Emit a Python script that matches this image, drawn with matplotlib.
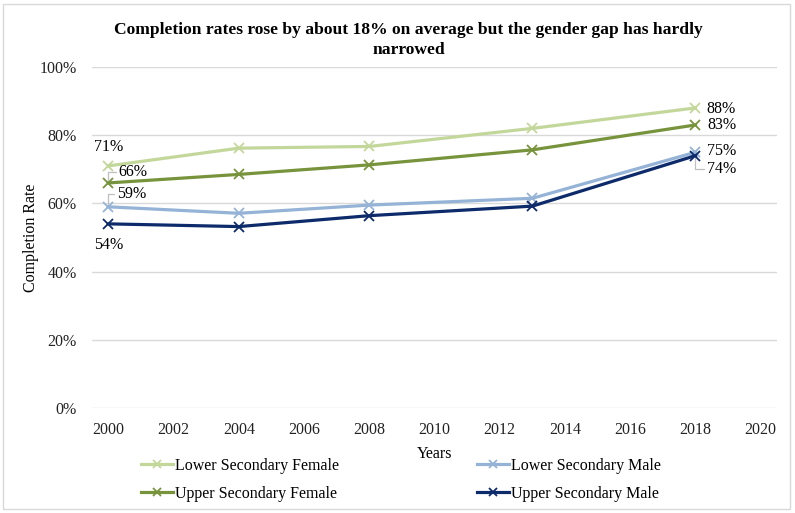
import matplotlib
matplotlib.use("Agg")
import matplotlib.pyplot as plt
from matplotlib.patches import Rectangle

plt.rcParams['font.family'] = ['Liberation Serif', 'DejaVu Serif']

years = [2000, 2004, 2008, 2013, 2018]
lower_sec_female = [71, 76.2, 76.7, 82.0, 88]
upper_sec_female = [66, 68.5, 71.3, 75.7, 83]
lower_sec_male = [59, 57.1, 59.5, 61.5, 75]
upper_sec_male = [54, 53.2, 56.4, 59.2, 74]

series_names = ["Lower Secondary Female", "Upper Secondary Female",
                "Lower Secondary Male", "Upper Secondary Male"]
colors = ["#c4d79b", "#77933c", "#95b3d7", "#0d2a6b"]

x_ticks = list(range(2000, 2021, 2))
y_ticks = [0, 20, 40, 60, 80, 100]

title = "Completion rates rose by about 18% on average but the gender gap has hardly\nnarrowed"

fig = plt.figure(figsize=(7.95, 5.13), dpi=100)
fig.patches.append(Rectangle((0.004, 0.008), 0.990, 0.985, transform=fig.transFigure,
                             fill=False, edgecolor="#d9d9d9", linewidth=1.0))

ax = fig.add_axes([92/795, 1-408/513, (777-92)/795, (408-67)/513])
all_series = [lower_sec_female, upper_sec_female, lower_sec_male, upper_sec_male]
lines = []
for vals, name, c in zip(all_series, series_names, colors):
    ln, = ax.plot(years, [v/100 for v in vals], color=c, lw=2.3, marker='x',
                  markersize=7, markeredgewidth=1.3, label=name, zorder=3)
    lines.append(ln)

ax.set_xlim(1999.5, 2020.5)
ax.set_ylim(0, 1)
ax.set_xticks(x_ticks)
ax.set_yticks([t/100 for t in y_ticks])
ax.set_yticklabels([f"{t}%" for t in y_ticks])
ax.tick_params(axis='both', length=0, labelsize=11.5, colors='#222222')
ax.tick_params(axis='y', pad=11)
ax.tick_params(axis='x', pad=10)
ax.grid(axis='y', color='#d9d9d9', lw=1.0)
ax.set_axisbelow(True)
for s in ax.spines.values():
    s.set_visible(False)

ax.set_xlabel("Years", fontsize=11.5, labelpad=6)
ax.set_ylabel("Completion Rate", fontsize=11.5, labelpad=0)

fig.text(0.514, 1-40/513, title, ha='center', va='center', fontsize=12.6,
         fontweight='bold', linespacing=1.35)

lead = dict(arrowstyle='-', color='#bfbfbf', lw=0.9, shrinkA=0, shrinkB=2)
lab_fs = 11.5
# left labels
ax.annotate(f"{lower_sec_female[0]:.0f}%", (years[0], lower_sec_female[0]/100),
            xytext=(0, 19), textcoords='offset pixels', ha='center', va='center', fontsize=lab_fs)
ax.annotate(f"{upper_sec_female[0]:.0f}%", (years[0], upper_sec_female[0]/100),
            xytext=(25, 11), textcoords='offset pixels', ha='center', va='center', fontsize=lab_fs,
            arrowprops=dict(connectionstyle='angle,angleA=180,angleB=90,rad=0', **lead))
ax.annotate(f"{lower_sec_male[0]:.0f}%", (years[0], lower_sec_male[0]/100),
            xytext=(23, 13), textcoords='offset pixels', ha='center', va='center', fontsize=lab_fs,
            arrowprops=dict(connectionstyle='angle,angleA=180,angleB=90,rad=0', **lead))
ax.annotate(f"{upper_sec_male[0]:.0f}%", (years[0], upper_sec_male[0]/100),
            xytext=(0, -21), textcoords='offset pixels', ha='center', va='center', fontsize=lab_fs)
# right labels
ax.annotate(f"{lower_sec_female[-1]:.0f}%", (years[-1], lower_sec_female[-1]/100),
            xytext=(26, -1), textcoords='offset pixels', ha='center', va='center', fontsize=lab_fs)
ax.annotate(f"{upper_sec_female[-1]:.0f}%", (years[-1], upper_sec_female[-1]/100),
            xytext=(26, 0), textcoords='offset pixels', ha='center', va='center', fontsize=lab_fs)
ax.annotate(f"{lower_sec_male[-1]:.0f}%", (years[-1], lower_sec_male[-1]/100),
            xytext=(26, 1), textcoords='offset pixels', ha='center', va='center', fontsize=lab_fs)
ax.annotate(f"{upper_sec_male[-1]:.0f}%", (years[-1], upper_sec_male[-1]/100),
            xytext=(26, -13), textcoords='offset pixels', ha='center', va='center', fontsize=lab_fs,
            arrowprops=dict(connectionstyle='angle,angleA=180,angleB=90,rad=0', **lead))

leg = fig.legend(handles=lines, ncol=2, loc='upper left',
                 bbox_to_anchor=(141/795, 1-458/513), frameon=False, fontsize=11.5,
                 handlelength=2.0, handletextpad=0.15, columnspacing=8.6,
                 labelspacing=0.75, borderpad=0, borderaxespad=0, markerscale=0.8)

fig.savefig("out.png", dpi=100)
